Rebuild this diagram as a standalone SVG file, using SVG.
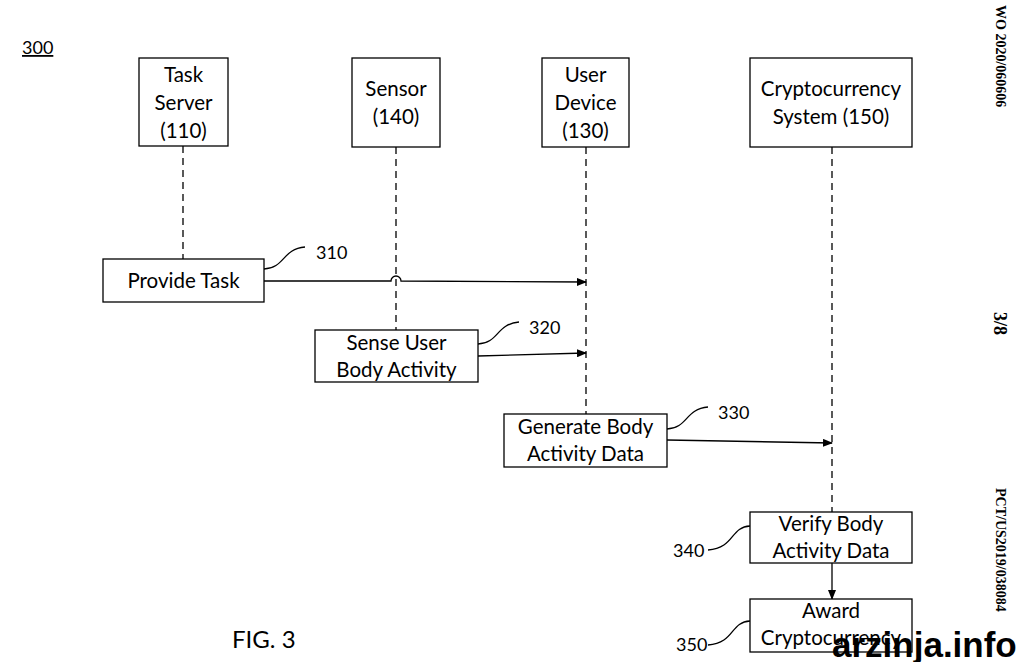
<svg xmlns="http://www.w3.org/2000/svg" width="1024" height="662" viewBox="0 0 1024 662">
<style>
.box{fill:#fff;stroke:#000;stroke-width:1.3}
.t{font-family:Lato,"Open Sans",sans-serif;font-size:20.5px;fill:#000;text-anchor:middle}
.lbl{font-family:Lato,"Open Sans",sans-serif;font-size:18px;fill:#000}
.life{stroke:#000;stroke-width:1.3;stroke-dasharray:7,5;fill:none}
.ln{stroke:#000;stroke-width:1.3;fill:none}
.side{font-family:"Liberation Serif",serif;font-weight:bold;fill:#000}
</style>
<defs>
<marker id="ah" markerWidth="10" markerHeight="8" refX="9" refY="4" orient="auto" markerUnits="userSpaceOnUse">
<path d="M0,0 L10,4 L0,8 Z" fill="#000"/>
</marker>
</defs>
<rect width="1024" height="662" fill="#fff"/>

<text x="22" y="54" class="lbl" style="text-decoration:underline">300</text>

<g id="lifelines">
<line class="life" x1="183" y1="146" x2="183" y2="259"/>
<line class="life" x1="396" y1="147" x2="396" y2="330"/>
<line class="life" x1="586" y1="147" x2="586" y2="414"/>
<line class="life" x1="832" y1="147" x2="832" y2="512"/>
</g>

<g id="task-server"><rect class="box" x="139" y="58" width="89" height="88"/>
<text class="t" x="183.5" y="82">Task</text><text class="t" x="183.5" y="110">Server</text><text class="t" x="183.5" y="138">(110)</text></g>
<g id="sensor"><rect class="box" x="352" y="58" width="88" height="89"/>
<text class="t" x="396" y="96">Sensor</text><text class="t" x="396" y="124">(140)</text></g>
<g id="user-device"><rect class="box" x="542" y="58" width="87" height="89"/>
<text class="t" x="585.5" y="82">User</text><text class="t" x="585.5" y="110">Device</text><text class="t" x="585.5" y="138">(130)</text></g>
<g id="crypto-system"><rect class="box" x="750" y="58" width="162" height="89"/>
<text class="t" x="831" y="96">Cryptocurrency</text><text class="t" x="831" y="124">System (150)</text></g>

<g id="connectors">
<path class="ln" d="M264,281 L391,281 A5,5 0 0 1 401,281 L586,282" marker-end="url(#ah)"/>
<path class="ln" d="M478,356 L586,353" marker-end="url(#ah)"/>
<path class="ln" d="M667,440 L832,443" marker-end="url(#ah)"/>
<path class="ln" d="M832,563 L832,599" marker-end="url(#ah)"/>
<path class="ln" d="M264,269 C285,268 282,249 305,247"/>
<path class="ln" d="M478,344 C499,343 496,324 519,322"/>
<path class="ln" d="M667,429 C688,428 685,409 708,407"/>
<path class="ln" d="M750,526 C730,527 735,548 708,550"/>
<path class="ln" d="M750,621 C730,622 735,643 708,645"/>
</g>

<g id="provide-task"><rect class="box" x="103" y="259" width="161" height="43"/>
<text class="t" x="183.5" y="288">Provide Task</text></g>
<text class="lbl" x="316" y="259">310</text>

<g id="sense-user"><rect class="box" x="315" y="330" width="163" height="52"/>
<text class="t" x="396.5" y="350">Sense User</text><text class="t" x="396.5" y="377">Body Activity</text></g>
<text class="lbl" x="529" y="334">320</text>

<g id="generate"><rect class="box" x="504" y="414" width="163" height="53"/>
<text class="t" x="585.5" y="434">Generate Body</text><text class="t" x="585.5" y="461">Activity Data</text></g>
<text class="lbl" x="718" y="419">330</text>

<g id="verify"><rect class="box" x="750" y="512" width="162" height="51"/>
<text class="t" x="831" y="531">Verify Body</text><text class="t" x="831" y="558">Activity Data</text></g>
<text class="lbl" x="673" y="557">340</text>

<g id="award"><rect class="box" x="750" y="599" width="162" height="53"/>
<text class="t" x="831" y="618">Award</text><text class="t" x="831" y="645">Cryptocurrency</text></g>
<text class="lbl" x="676" y="651">350</text>

<text x="232" y="648" style="font-family:Lato,'Open Sans',sans-serif;font-size:24px">FIG. 3</text>

<text class="side" transform="translate(996,5) rotate(90)" style="font-size:14px">WO 2020/060606</text>
<text class="side" transform="translate(994,312) rotate(90)" style="font-size:18px">3/8</text>
<text class="side" transform="translate(996,488) rotate(90)" style="font-size:14px">PCT/US2019/038084</text>

<text x="832" y="657" style="font-family:'Liberation Sans',sans-serif;font-weight:bold;font-size:35px;fill:#000">arzinja.info</text>
</svg>
